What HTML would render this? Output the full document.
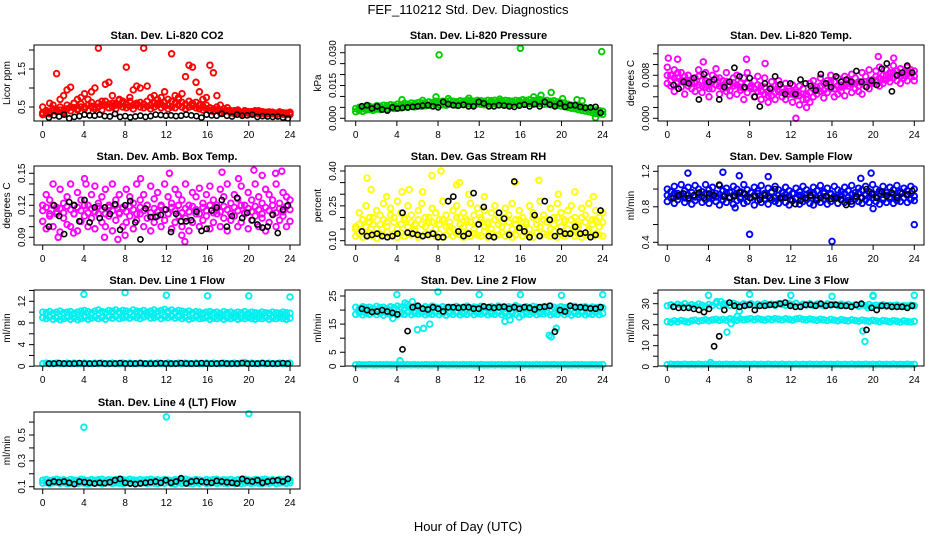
<!DOCTYPE html>
<html><head><meta charset="utf-8"><style>
html,body{margin:0;padding:0;background:#fff;}
svg{display:block;font-family:"Liberation Sans",sans-serif;}
</style></head><body>
<svg id="chart" width="936" height="540" viewBox="0 0 936 540">
<rect x="0" y="0" width="936" height="540" fill="#fff"/>
<text x="468" y="14" text-anchor="middle" font-size="13">FEF_110212  Std. Dev. Diagnostics</text>
<text x="468" y="531" text-anchor="middle" font-size="13">Hour of Day (UTC)</text>
</svg>
<script>
const hourTicks=[0,4,8,12,16,20,24];
// CO2
const co2Base=[0.3,0.35,0.32,0.4,0.38,0.42,0.35,0.45,0.4,0.48,0.42,0.5,0.45,0.4,0.52,0.45,0.5,0.42,0.55,0.48,0.5,0.45,0.55,0.5,0.48,0.52,0.45,0.55,0.5,0.48,0.52,0.45,0.5,0.55,0.48,0.52,0.45,0.5,0.48,0.55,0.5,0.45,0.5,0.52,0.48,0.45,0.42,0.45,0.4,0.38,0.42,0.35,0.38,0.4,0.35,0.33,0.36,0.32,0.35,0.34,0.33,0.35,0.32,0.34,0.31,0.33,0.32,0.3,0.33,0.31,0.3,0.32];
const co2Mid=[0.35,0.4,0.38,0.45,0.42,0.5,0.4,0.55,0.5,0.6,0.45,0.58,0.5,0.55,0.62,0.5,0.6,0.55,0.65,0.58,0.6,0.55,0.68,0.6,0.58,0.65,0.55,0.6,0.62,0.58,0.65,0.55,0.6,0.7,0.58,0.62,0.55,0.65,0.6,0.7,0.62,0.58,0.65,0.6,0.62,0.55,0.52,0.55,0.48,0.45,0.5,0.42,0.45,0.48,0.4,0.38,0.42,0.36,0.4,0.38,0.37,0.4,0.36,0.38,0.35,0.37,0.36,0.34,0.37,0.35,0.34,0.36];
const co2Scatter=[0.5,0.4,0.6,0.55,1.38,0.7,0.8,0.95,1.02,0.6,0.7,0.75,0.85,0.7,0.9,1.0,2.05,0.65,1.1,1.15,0.8,0.6,0.7,0.65,1.55,0.75,0.95,1.05,1.0,2.05,1.05,0.75,0.8,0.6,0.75,0.9,0.7,1.9,0.8,0.75,0.85,1.3,1.6,1.55,1.15,0.9,0.7,0.75,1.6,1.4,0.8,0.55,0.45,0.4,0.35,0.4,0.38,0.35,0.4,0.35,0.38,0.35,0.4,0.33,0.36,0.34,0.35,0.33,0.36,0.32,0.34,0.3];
const co2Black=[0.22,0.28,0.25,0.3,0.2,0.24,0.26,0.3,0.28,0.27,0.3,0.26,0.25,0.32,0.24,0.26,0.23,0.25,0.27,0.24,0.26,0.3,0.29,0.27,0.28,0.26,0.27,0.3,0.28,0.26,0.22,0.3,0.28,0.27,0.32,0.27,0.25,0.3,0.27,0.28,0.3,0.24,0.26,0.25,0.24,0.25,0.22,0.2];
// Pressure
const presBase=[0.0045,0.005,0.0048,0.0052,0.0055,0.005,0.0058,0.0055,0.006,0.0058,0.0062,0.006,0.0065,0.0062,0.0068,0.0065,0.007,0.0068,0.0072,0.007,0.0072,0.0075,0.0072,0.0078,0.0075,0.0078,0.0075,0.008,0.0078,0.0076,0.008,0.0078,0.0082,0.008,0.0078,0.0082,0.008,0.0078,0.0082,0.008,0.0083,0.0078,0.008,0.0082,0.008,0.0078,0.0082,0.008,0.0085,0.0082,0.0085,0.008,0.0083,0.0085,0.008,0.0082,0.0078,0.008,0.0075,0.0072,0.007,0.0065,0.006,0.0058,0.0055,0.005,0.0048,0.0045,0.004,0.0038,0.0035,0.0032];
const presLow=[0.003,0.0035,0.0032,0.0038,0.004,0.0036,0.0042,0.004,0.0045,0.0043,0.0047,0.0045,0.005,0.0048,0.0052,0.005,0.0055,0.0052,0.0057,0.0055,0.0057,0.006,0.0057,0.0062,0.006,0.0062,0.006,0.0065,0.0062,0.006,0.0065,0.0062,0.0066,0.0065,0.0062,0.0066,0.0064,0.0062,0.0066,0.0064,0.0067,0.0062,0.0064,0.0066,0.0064,0.0062,0.0066,0.0064,0.0068,0.0066,0.0068,0.0064,0.0066,0.0068,0.0064,0.0066,0.0062,0.0064,0.006,0.0056,0.0054,0.005,0.0046,0.0044,0.004,0.0036,0.0033,0.003,0.0026,0.0022,0.002,0.0018];
const presOutHours=[8.1,16,23.9,19,18,17.3,7.8,4.5,6.5,9,11,14,20.1,21.5,22,23.3];
const presOutVals=[0.029,0.032,0.0305,0.0118,0.0105,0.0098,0.0098,0.0085,0.0082,0.009,0.0092,0.0088,0.009,0.0085,0.008,0.0003];
const presBlack=[0.0055,0.006,0.0045,0.0055,0.004,0.0035,0.005,0.0045,0.0048,0.005,0.0052,0.0055,0.0058,0.006,0.0055,0.005,0.0075,0.0065,0.006,0.0058,0.0062,0.0055,0.0055,0.0075,0.0068,0.0055,0.0055,0.006,0.0058,0.0055,0.0052,0.0058,0.0062,0.0055,0.0065,0.0055,0.0075,0.0063,0.0055,0.0068,0.0052,0.006,0.006,0.0052,0.0048,0.005,0.0052,0.0025];
// Li-820 Temp
const tempHigh=[0.0095,0.008,0.009,0.0075,0.0085,0.007,0.008,0.0065,0.0075,0.009,0.007,0.0085,0.0065,0.008,0.0092,0.0075,0.007,0.0085,0.006,0.0075,0.008,0.0065,0.0075,0.0085,0.006,0.007,0.0078,0.006,0.0075,0.005,0.0068,0.006,0.007,0.0055,0.0065,0.005,0.0062,0.0048,0.006,0.0055,0.0045,0.0065,0.007,0.0058,0.0075,0.0065,0.007,0.008,0.0068,0.0075,0.0062,0.0078,0.007,0.0082,0.0075,0.0068,0.0085,0.0078,0.009,0.0072,0.0088,0.0095,0.008,0.009,0.0085,0.0098,0.0088,0.0092,0.0085,0.0095,0.009,0.0088];
const tempMid=[0.008,0.007,0.0075,0.0085,0.007,0.0078,0.0068,0.0072,0.0065,0.0078,0.006,0.007,0.0055,0.0068,0.0075,0.006,0.0062,0.0068,0.0052,0.0066,0.0062,0.0058,0.0055,0.0065,0.0058,0.0055,0.0062,0.005,0.0058,0.0042,0.0055,0.0048,0.006,0.0048,0.005,0.0055,0.0045,0.0052,0.0042,0.0045,0.0035,0.0048,0.0055,0.0052,0.006,0.0052,0.006,0.0068,0.0055,0.006,0.0058,0.006,0.0065,0.0065,0.0065,0.006,0.0065,0.0068,0.007,0.0068,0.0078,0.0075,0.0072,0.008,0.0076,0.0085,0.008,0.0078,0.008,0.0082,0.0085,0.0078];
const tempLow=[0.0065,0.006,0.005,0.0068,0.0058,0.0045,0.006,0.0055,0.005,0.0062,0.0048,0.0058,0.004,0.0055,0.0062,0.0045,0.0055,0.005,0.0042,0.006,0.0045,0.0052,0.0035,0.0048,0.0055,0.004,0.005,0.0035,0.0045,0.003,0.0042,0.0035,0.005,0.004,0.0035,0.0045,0.003,0.0042,0.0025,0.0035,0.002,0.003,0.004,0.0045,0.005,0.0038,0.0048,0.0055,0.004,0.0045,0.005,0.0042,0.006,0.0048,0.0055,0.005,0.0045,0.006,0.0055,0.0065,0.007,0.006,0.0065,0.0072,0.0068,0.0075,0.007,0.0065,0.0075,0.007,0.0078,0.007];
const tempOutHours=[12.5,20.5,22,0.1,1,7.7,3.5,9.5];
const tempOutVals=[0,0.0115,0.0112,0.0112,0.011,0.011,0.0105,0.0102];
const tempBlack=[0.0062,0.0055,0.0068,0.0065,0.0075,0.0035,0.0082,0.0068,0.0072,0.0035,0.0058,0.0068,0.0094,0.0078,0.0058,0.0075,0.004,0.0022,0.0065,0.0055,0.0078,0.0063,0.0045,0.0065,0.0045,0.0072,0.0065,0.006,0.0052,0.0082,0.0065,0.0058,0.0078,0.0068,0.0072,0.0068,0.0088,0.0068,0.0058,0.007,0.0062,0.0092,0.0102,0.005,0.008,0.0085,0.0098,0.0085];
// Amb box temp
const ambHigh=[0.12,0.13,0.125,0.14,0.118,0.135,0.122,0.128,0.14,0.12,0.132,0.125,0.145,0.12,0.13,0.138,0.122,0.128,0.135,0.12,0.14,0.125,0.13,0.118,0.135,0.128,0.122,0.14,0.125,0.13,0.12,0.138,0.126,0.132,0.12,0.14,0.128,0.122,0.135,0.13,0.125,0.14,0.12,0.132,0.128,0.136,0.122,0.13,0.138,0.125,0.12,0.135,0.128,0.14,0.122,0.13,0.126,0.138,0.12,0.132,0.125,0.14,0.128,0.122,0.135,0.13,0.125,0.14,0.122,0.132,0.128,0.125];
const ambMid=[0.115,0.118,0.112,0.12,0.114,0.117,0.113,0.119,0.116,0.112,0.118,0.115,0.12,0.113,0.117,0.114,0.119,0.116,0.112,0.118,0.115,0.12,0.113,0.117,0.114,0.119,0.116,0.112,0.118,0.115,0.12,0.113,0.117,0.114,0.119,0.116,0.112,0.118,0.115,0.12,0.113,0.117,0.114,0.119,0.116,0.112,0.118,0.115,0.12,0.113,0.117,0.114,0.119,0.116,0.112,0.118,0.115,0.12,0.113,0.117,0.114,0.119,0.116,0.112,0.118,0.115,0.12,0.113,0.117,0.114,0.119,0.116];
const ambLow=[0.105,0.098,0.11,0.1,0.112,0.095,0.108,0.102,0.1,0.112,0.096,0.105,0.11,0.1,0.108,0.098,0.112,0.104,0.1,0.11,0.096,0.106,0.112,0.1,0.104,0.11,0.098,0.106,0.112,0.1,0.108,0.096,0.104,0.11,0.1,0.106,0.112,0.098,0.104,0.11,0.1,0.108,0.096,0.104,0.112,0.1,0.106,0.11,0.098,0.104,0.112,0.1,0.108,0.096,0.106,0.11,0.1,0.104,0.112,0.098,0.106,0.11,0.1,0.108,0.096,0.104,0.112,0.1,0.106,0.11,0.1,0.105];
const ambOutHours=[1.5,4.2,7.3,9.5,12.3,13.8,17.4,19,20.5,21.3,22.6,23.2,8,13.5,3,6];
const ambOutVals=[0.09,0.14,0.088,0.145,0.15,0.086,0.151,0.145,0.153,0.148,0.15,0.152,0.092,0.092,0.094,0.09];
const ambBlack=[0.1,0.12,0.11,0.093,0.123,0.12,0.105,0.125,0.104,0.118,0.108,0.118,0.112,0.121,0.097,0.12,0.124,0.104,0.088,0.117,0.109,0.109,0.111,0.116,0.095,0.112,0.105,0.105,0.106,0.114,0.096,0.098,0.115,0.118,0.125,0.1,0.11,0.127,0.108,0.113,0.106,0.102,0.099,0.1,0.111,0.094,0.116,0.12];
// Gas stream RH
const rhBase=[0.12,0.13,0.115,0.125,0.135,0.12,0.11,0.13,0.125,0.14,0.12,0.13,0.115,0.135,0.12,0.13,0.125,0.14,0.115,0.12,0.13,0.125,0.135,0.12,0.13,0.115,0.125,0.14,0.12,0.13,0.125,0.115,0.135,0.12,0.13,0.125,0.12,0.14,0.115,0.13,0.12,0.125,0.135,0.12,0.13,0.115,0.125,0.14,0.12,0.13,0.125,0.115,0.135,0.12,0.13,0.125,0.12,0.14,0.115,0.13,0.12,0.125,0.135,0.12,0.13,0.115,0.125,0.14,0.12,0.13,0.125,0.12];
const rhMid=[0.15,0.17,0.19,0.16,0.18,0.2,0.15,0.17,0.19,0.16,0.21,0.18,0.15,0.17,0.2,0.16,0.18,0.15,0.19,0.17,0.16,0.2,0.18,0.15,0.17,0.19,0.16,0.18,0.15,0.2,0.17,0.16,0.19,0.18,0.15,0.17,0.2,0.16,0.18,0.15,0.19,0.17,0.16,0.2,0.18,0.15,0.17,0.19,0.16,0.18,0.15,0.2,0.17,0.16,0.19,0.18,0.15,0.17,0.2,0.16,0.18,0.15,0.19,0.17,0.16,0.2,0.18,0.15,0.17,0.19,0.16,0.18];
const rhScatter=[0.16,0.22,0.19,0.25,0.2,0.17,0.23,0.21,0.26,0.18,0.24,0.2,0.27,0.22,0.19,0.25,0.21,0.17,0.23,0.26,0.2,0.18,0.24,0.22,0.19,0.27,0.21,0.16,0.23,0.25,0.2,0.22,0.18,0.26,0.21,0.24,0.19,0.23,0.17,0.22,0.25,0.2,0.18,0.24,0.21,0.26,0.19,0.23,0.2,0.17,0.25,0.22,0.19,0.27,0.21,0.18,0.24,0.2,0.26,0.22,0.19,0.23,0.25,0.2,0.17,0.24,0.21,0.26,0.19,0.23,0.2,0.22];
const rhOutHours=[1.1,1.5,7.4,8.3,15.5,17.8,9.8,10.1,3,4.5,5.2,6.5,11,12.5,19.7,21.3,23.1];
const rhOutVals=[0.37,0.32,0.38,0.4,0.35,0.36,0.34,0.35,0.29,0.31,0.32,0.31,0.3,0.29,0.3,0.31,0.29];
const rhBlack=[0.14,0.12,0.125,0.13,0.12,0.115,0.12,0.13,0.22,0.135,0.13,0.125,0.12,0.125,0.13,0.115,0.115,0.27,0.29,0.14,0.12,0.13,0.305,0.17,0.245,0.12,0.115,0.22,0.195,0.125,0.355,0.155,0.14,0.115,0.21,0.12,0.27,0.19,0.12,0.14,0.13,0.13,0.16,0.13,0.135,0.115,0.125,0.23];
// Sample flow
const flowHigh=[1.0,0.97,1.03,0.95,1.05,0.98,1.02,0.96,1.04,1.0,0.97,1.05,0.99,1.02,0.95,1.04,0.98,1.01,0.96,1.03,1.0,0.97,1.05,0.99,0.96,1.02,0.98,1.04,0.95,1.01,0.97,1.03,0.99,0.96,1.02,0.98,0.95,1.01,0.97,1.03,0.99,0.96,1.02,0.98,1.04,0.97,1.01,0.95,1.03,0.99,0.97,1.02,0.98,1.04,0.96,1.01,0.99,1.03,0.97,1.05,1.0,0.98,1.03,0.96,1.02,0.99,1.04,0.97,1.01,0.98,1.03,1.0];
const flowMid=[0.93,0.91,0.95,0.92,0.94,0.9,0.93,0.96,0.91,0.94,0.92,0.95,0.9,0.93,0.91,0.94,0.92,0.96,0.9,0.93,0.95,0.91,0.94,0.92,0.9,0.93,0.95,0.91,0.94,0.92,0.96,0.9,0.93,0.91,0.94,0.92,0.95,0.9,0.93,0.91,0.94,0.92,0.96,0.9,0.93,0.95,0.91,0.94,0.92,0.9,0.93,0.95,0.91,0.94,0.92,0.96,0.9,0.93,0.91,0.94,0.92,0.95,0.9,0.93,0.91,0.94,0.92,0.96,0.9,0.93,0.95,0.92];
const flowLow=[0.86,0.9,0.84,0.88,0.92,0.85,0.89,0.83,0.87,0.91,0.85,0.88,0.84,0.9,0.86,0.82,0.88,0.85,0.91,0.83,0.87,0.89,0.84,0.86,0.9,0.82,0.87,0.85,0.89,0.83,0.88,0.86,0.84,0.9,0.85,0.82,0.87,0.89,0.83,0.86,0.88,0.84,0.82,0.87,0.85,0.89,0.83,0.86,0.9,0.84,0.88,0.85,0.87,0.83,0.89,0.86,0.84,0.88,0.85,0.9,0.86,0.83,0.88,0.85,0.89,0.84,0.87,0.86,0.9,0.85,0.88,0.87];
const flowOutHours=[8,16,24,2,5.4,6.6,19.8,20,18.8,7,9.8];
const flowOutVals=[0.49,0.41,0.6,1.18,1.19,0.79,1.18,0.78,1.12,1.15,1.14];
const flowBlack=[0.9,0.93,0.95,0.9,0.93,0.96,0.9,0.95,0.93,1.05,0.92,0.9,0.92,0.96,0.95,0.9,0.92,0.88,0.93,0.9,1.0,0.9,0.9,0.88,0.83,0.87,0.9,0.93,0.88,0.9,0.92,0.89,0.9,0.88,0.82,0.86,0.92,0.9,1.0,0.95,0.9,0.97,0.92,0.96,0.9,0.95,0.94,0.98];
// Line 1
const line1High=[10,9.9,10.1,9.8,10,10.2,9.9,10,10.1,9.8,10,10.2,10.3,10.1,9.9,10.2,10.4,10.1,10,10.3,10.2,10.4,10.1,10.3,10.2,10,10.4,10.2,10.1,10.3,10,10.2,10.4,10.1,10.3,10.5,10.2,10.4,10.1,10.3,10.2,10,10.2,9.9,10.1,10,9.8,10,10.1,9.9,10,9.8,10.1,9.9,10,9.8,10,9.9,10.1,9.8,10,9.9,9.8,10,9.9,9.8,10,9.9,9.8,10,9.9,9.8];
const line1Low=[9,8.8,9.1,8.7,8.9,8.6,8.8,9,8.7,8.9,8.6,8.8,9,8.7,8.9,9.1,8.8,9,8.7,9.1,8.9,9.2,8.8,9,9.1,8.9,9.2,9,8.8,9.1,9.3,8.9,9,9.2,8.8,9.1,9,9.2,8.9,9.1,8.8,9,8.7,8.9,9.1,8.8,8.9,9,8.7,8.9,8.8,9,8.7,8.9,8.8,9,8.7,8.9,8.8,9,8.8,8.7,8.9,8.8,9,8.7,8.9,8.8,9,8.8,8.7,8.9];
const line1Base=[0.5,0.6,0.5,0.5,0.6,0.5,0.5,0.6,0.5,0.6,0.5,0.5,0.6,0.5,0.5,0.6,0.5,0.6,0.5,0.5,0.6,0.5,0.5,0.6,0.5,0.6,0.5,0.5,0.6,0.5,0.5,0.6,0.5,0.6,0.5,0.5,0.6,0.5,0.5,0.6,0.5,0.6,0.5,0.5,0.6,0.5,0.5,0.6,0.5,0.6,0.5,0.5,0.6,0.5,0.5,0.6,0.5,0.6,0.7,0.5,0.6,0.5,0.5,0.6,0.5,0.6,0.5,0.5,0.6,0.5,0.5,0.6];
const line1OutHours=[4,8,12,16,20,24];
const line1OutVals=[13.3,13.6,13.1,13,13,12.8];
const line1Black=[0.5,0.5,0.6,0.5,0.5,0.5,0.6,0.5,0.5,0.5,0.6,0.5,0.5,0.5,0.6,0.5,0.5,0.5,0.6,0.5,0.5,0.5,0.6,0.5,0.5,0.5,0.6,0.5,0.5,0.5,0.6,0.5,0.5,0.5,0.6,0.5,0.5,0.5,0.6,0.5,0.5,0.5,0.6,0.5,0.5,0.5,0.6,0.5];
// Line 2
const line2High=[21,20.5,21.2,20.8,21,20.6,21.3,20.9,21,20.5,21.2,20.8,21.4,21,20.7,21.2,20.9,21.3,21,20.6,21.2,20.8,21.4,21,20.7,21.2,20.9,21,20.6,21.3,20.8,21,21.4,20.7,21.1,20.9,21.3,21,20.6,21.2,20.8,21.4,21,20.7,21.2,20.9,21.5,21,20.7,21.2,20.8,21.3,21,20.6,21.2,20.9,21.4,21,20.7,21.2,20.9,21,20.6,21.3,20.8,21,21.2,20.7,21.1,20.9,21,20.8];
const line2Low=[18.5,19,18.3,18.8,18.5,19.2,18.4,18.8,18.2,18.9,18.5,19,18.3,18.7,18.5,19.1,18.4,18.8,18.6,19,18.3,18.7,18.5,19.1,18.4,18.8,18.2,18.9,18.5,19,18.3,18.7,18.5,19.1,18.4,18.8,18.6,19,18.3,18.7,18.5,19.1,18.4,18.8,18.2,18.9,18.5,17.5,18.3,18.7,18.5,19.1,18.4,18.8,18.6,19,18.3,18.7,18.5,19.1,18.4,18.8,18.2,18.9,18.5,19,18.3,18.7,18.5,19.1,18.4,18.8];
const line2Base=[0.5,0.6,0.5,0.5,0.6,0.5,0.5,0.6,0.5,0.6,0.5,0.5,0.6,0.5,0.5,0.6,0.5,0.6,0.5,0.5,0.6,0.5,0.5,0.6,0.5,0.6,0.5,0.5,0.6,0.5,0.5,0.6,0.5,0.6,0.5,0.5,0.6,0.5,0.5,0.6,0.5,0.6,0.5,0.5,0.6,0.5,0.5,0.6,0.5,0.6,0.5,0.5,0.6,0.5,0.5,0.6,0.5,0.6,0.5,0.5,0.6,0.5,0.5,0.6,0.5,0.6,0.5,0.5,0.6,0.5,0.5,0.6];
const line2OutHours=[4,8,12,16,20,24,5,5.5,6,6.6,7.2,4.3,18.8,19,19.5,4.8,3.6,14.5,15];
const line2OutVals=[25.5,26.5,25.5,25.5,25.2,25.5,22,23,13,13.5,15,2,11,10.5,13.5,22.5,17,16,16.5];
const line2Black=[20.5,20,19.3,19.5,20,19.5,19,18.5,6,12.5,21,21.5,20.5,20.2,21,20.5,19.5,21,21,20.8,21,21,20.5,20.5,21.3,21,20.8,21,21.2,20.5,21,20.5,21,20.8,20.2,21,21.2,21.5,12.3,20,19.5,21.5,21,21,20.8,20.6,20.5,21];
// Line 3
const line3High=[29,29.5,28.8,29.7,29.2,30,28.9,29.5,29.1,29.8,29.3,28.7,29.6,29.2,30.1,29,29.5,29.8,29.3,30.2,29.6,29.1,29.9,29.4,30,29.2,29.7,29.4,30.1,29.5,29.8,29.2,30,29.6,29.3,29.9,29.5,30.2,29.1,29.7,29.4,30,29.2,29.8,29.5,29.1,29.9,29.4,29.7,29.2,29.8,29.3,29.6,29,29.5,28.8,29.4,29.1,29.6,28.9,29.3,29,29.5,28.8,29.2,29,29.4,28.7,29.1,28.9,29.3,29];
const line3Mid=[21.5,21.2,21.8,21.4,22,21.6,21.3,21.9,22.2,21.7,22,22.4,21.9,22.3,22.6,22.1,22.5,22.2,22.8,22.4,22.1,22.7,22.3,22.6,22.9,22.4,22.8,22.5,22.2,22.7,22.4,22.9,22.6,22.3,22.8,22.5,22.2,22.7,23,22.5,22.3,22.7,22.4,22.1,22.6,22.3,22,22.5,22.2,21.9,22.4,22.1,21.8,22.3,22,21.7,22.2,21.9,21.6,22.1,21.8,21.5,22,21.7,21.4,21.9,21.6,21.3,21.8,21.5,21.3,21.6];
const line3Base=[1,1.2,1,1.1,1,1.2,1,1.1,1,1.2,1,1.1,1,1.2,1,1.1,1,1.2,1,1.1,1,1.2,1,1.1,1,1.2,1,1.1,1,1.2,1,1.1,1,1.2,1,1.1,1,1.2,1,1.1,1,1.2,1,1.1,1,1.2,1,1.1,1,1.2,1,1.1,1,1.2,1,1.1,1,1.2,1,1.1,1,1.2,1,1.1,1,1.2,1,1.1,1,1.2,1,1.1];
const line3OutHours=[4,8,12,16,20,24,4.8,5.2,5.5,6.2,6.8,7,19,19.2,19.5,20,5.8,4.2];
const line3OutVals=[34,34.5,34,33.5,34,34,31,31,30,20.5,24,26.5,17,12,28,33.5,16.5,2];
const line3Black=[28.5,28,28,28,27.5,27,26,27.5,9.7,14.5,27,30.5,29,28.5,29,29.5,27,29,29,29.5,29.5,30,30.5,29,28.5,28.5,29.5,29.5,29,30,29,29.5,29.5,29,29,28.5,29.5,30,17.5,28,27,29,29,28.5,28.5,28.5,28,29];
// Line 4
const line4High=[0.15,0.155,0.148,0.152,0.158,0.15,0.154,0.147,0.156,0.151,0.149,0.157,0.152,0.148,0.155,0.15,0.153,0.158,0.149,0.154,0.151,0.156,0.148,0.153,0.15,0.157,0.152,0.149,0.155,0.151,0.154,0.158,0.15,0.153,0.149,0.156,0.152,0.148,0.155,0.15,0.154,0.158,0.151,0.149,0.156,0.152,0.148,0.155,0.15,0.153,0.157,0.149,0.154,0.151,0.156,0.148,0.153,0.15,0.157,0.152,0.149,0.155,0.151,0.154,0.158,0.15,0.153,0.149,0.156,0.152,0.155,0.15];
const line4Low=[0.128,0.132,0.125,0.13,0.134,0.127,0.131,0.124,0.129,0.133,0.126,0.13,0.128,0.122,0.131,0.127,0.133,0.125,0.129,0.132,0.126,0.13,0.128,0.124,0.131,0.127,0.133,0.125,0.129,0.132,0.126,0.13,0.128,0.124,0.131,0.127,0.133,0.125,0.12,0.132,0.126,0.13,0.128,0.124,0.131,0.127,0.133,0.125,0.129,0.132,0.126,0.13,0.128,0.124,0.131,0.127,0.133,0.125,0.129,0.132,0.126,0.13,0.128,0.124,0.131,0.127,0.133,0.125,0.129,0.132,0.126,0.13];
const line4OutHours=[4,12,20];
const line4OutVals=[0.56,0.64,0.665];
const line4Black=[0.13,0.14,0.135,0.14,0.13,0.12,0.14,0.135,0.13,0.125,0.13,0.128,0.135,0.15,0.16,0.13,0.125,0.12,0.125,0.13,0.135,0.14,0.13,0.15,0.13,0.14,0.165,0.125,0.14,0.145,0.14,0.135,0.13,0.145,0.14,0.135,0.13,0.125,0.16,0.145,0.14,0.15,0.13,0.14,0.145,0.15,0.14,0.16];

const colL={l:34,r:300,x0:42.7,x24:290};
const colM={l:345,r:612,x0:355.7,x24:602.7};
const colR={l:658,r:924,x0:667.3,x24:914.3};
const rows=[{t:45,b:121},{t:166,b:245},{t:290,b:366},{t:412,b:489}];
const CY='#00f0f0';
const panels=[
 {name:'co2',title:'Stan. Dev. Li-820 CO2',ylab:'Licor ppm',col:colL,row:rows[0],cal:[0.5,107,1.5,69],ticks:[0.5,1,1.5,2],labs:[0.5,1.5],fmt:1,
  series:[[co2Base,null,'#f00'],[co2Mid,null,'#f00'],[co2Scatter,null,'#f00'],[co2Black,'b','#000']]},
 {name:'pressure',title:'Stan. Dev. Li-820 Pressure',ylab:'kPa',col:colM,row:rows[0],cal:[0,118.3,0.03,52.7],ticks:[0,0.005,0.01,0.015,0.02,0.025,0.03],labs:[0,0.015,0.03],fmt:3,
  series:[[presLow,null,'#0c0'],[presBase,null,'#0c0'],[presOutVals,presOutHours,'#0c0'],[presBlack,'b','#000']]},
 {name:'li820-temp',title:'Stan. Dev. Li-820 Temp.',ylab:'degrees C',col:colR,row:rows[0],cal:[0,118.3,0.008,75.3],ticks:[0,0.002,0.004,0.006,0.008,0.01,0.012],labs:[0,0.008],fmt:3,
  series:[[tempLow,null,'#f0f'],[tempMid,null,'#f0f'],[tempHigh,null,'#f0f'],[tempOutVals,tempOutHours,'#f0f'],[tempBlack,'b','#000']]},
 {name:'amb-box-temp',title:'Stan. Dev. Amb. Box Temp.',ylab:'degrees C',col:colL,row:rows[1],cal:[0.09,237.3,0.15,173.3],ticks:[0.09,0.1,0.11,0.12,0.13,0.14,0.15],labs:[0.09,0.12,0.15],fmt:2,
  series:[[ambLow,null,'#f0f'],[ambMid,null,'#f0f'],[ambHigh,null,'#f0f'],[ambOutVals,ambOutHours,'#f0f'],[ambBlack,'b','#000']]},
 {name:'gas-stream-rh',title:'Stan. Dev. Gas Stream RH',ylab:'percent',col:colM,row:rows[1],cal:[0.1,240.7,0.4,171],ticks:[0.1,0.15,0.2,0.25,0.3,0.35,0.4],labs:[0.1,0.25,0.4],fmt:2,
  series:[[rhScatter,null,'#ff0'],[rhMid,null,'#ff0'],[rhBase,null,'#ff0'],[rhOutVals,rhOutHours,'#ff0'],[rhBlack,'b','#000']]},
 {name:'sample-flow',title:'Stan. Dev. Sample Flow',ylab:'ml/min',col:colR,row:rows[1],cal:[0.4,242.3,1.2,171.3],ticks:[0.4,0.6,0.8,1,1.2],labs:[0.4,0.8,1.2],fmt:1,
  series:[[flowLow,null,'#00f'],[flowMid,null,'#00f'],[flowHigh,null,'#00f'],[flowOutVals,flowOutHours,'#00f'],[flowBlack,'b','#000']]},
 {name:'line1-flow',title:'Stan. Dev. Line 1 Flow',ylab:'ml/min',col:colL,row:rows[2],cal:[0,366.3,12,301.3],ticks:[0,2,4,6,8,10,12,14],labs:[0,4,8,12],fmt:0,
  series:[[line1Base,null,CY],[line1Low,null,CY],[line1High,null,CY],[line1OutVals,line1OutHours,CY],[line1Black,'b','#000']]},
 {name:'line2-flow',title:'Stan. Dev. Line 2 Flow',ylab:'ml/min',col:colM,row:rows[2],cal:[0,366.3,25,296],ticks:[0,5,10,15,20,25],labs:[0,5,15,25],fmt:0,
  series:[[line2Base,null,CY],[line2Low,null,CY],[line2High,null,CY],[line2OutVals,line2OutHours,CY],[line2Black,'b','#000']]},
 {name:'line3-flow',title:'Stan. Dev. Line 3 Flow',ylab:'ml/min',col:colR,row:rows[2],cal:[0,366.7,30,303.7],ticks:[0,5,10,15,20,25,30,35],labs:[0,10,20,30],fmt:0,
  series:[[line3Base,null,CY],[line3Mid,null,CY],[line3High,null,CY],[line3OutVals,line3OutHours,CY],[line3Black,'b','#000']]},
 {name:'line4-flow',title:'Stan. Dev. Line 4 (LT) Flow',ylab:'ml/min',col:colL,row:rows[3],cal:[0.1,486.7,0.5,435],ticks:[0.1,0.2,0.3,0.4,0.5,0.6],labs:[0.1,0.3,0.5],fmt:1,
  series:[[line4Low,null,CY],[line4High,null,CY],[line4OutVals,line4OutHours,CY],[line4Black,'b','#000']]}
];
const NS='http://www.w3.org/2000/svg';
const svg=document.getElementById('chart');
function mk(tag,attrs,parent){const e=document.createElementNS(NS,tag);for(const k in attrs)e.setAttribute(k,attrs[k]);parent.appendChild(e);return e;}
panels.forEach(p=>{
 const g=mk('g',{},svg);
 
 
 const c=p.col,r=p.row;
 const xs=h=>c.x0+h*(c.x24-c.x0)/24;
 const [v1,p1,v2,p2]=p.cal;
 const ys=v=>p1+(v-v1)*(p2-p1)/(v2-v1);
 const t=mk('text',{x:(c.l+c.r)/2,y:r.t-6,'text-anchor':'middle','font-size':11,'font-weight':'bold'},g);
 t.textContent=p.title;
 
 
 const yl=mk('text',{x:0,y:0,'text-anchor':'middle','font-size':10,transform:`translate(${c.l-24},${(r.t+r.b)/2}) rotate(-90)`},g);
 yl.textContent=p.ylab;
 
 
 const pg=mk('g',{fill:'none'},g);
 
 
 p.series.forEach(s=>{
  const vals=s[0],hrs=s[1],col=s[2];
  const black=col==='#000';
  vals.forEach((v,i)=>{
   let h;
   if(hrs==='b') h=0.6+i*23.2/(vals.length-1);
   else if(hrs) h=hrs[i];
   else h=i*24/(vals.length-1);
   const cc=mk('circle',{cx:xs(h).toFixed(1),cy:ys(v).toFixed(1),r:black?2.6:2.8,stroke:col,'stroke-width':black?1.6:1.9},pg);
   
   
  });
 });
 const box=mk('rect',{x:c.l,y:r.t,width:c.r-c.l,height:r.b-r.t,fill:'none',stroke:'#000','stroke-width':1},g);
 
 
 hourTicks.forEach(h=>{
  const x=xs(h);
  mk('line',{x1:x,x2:x,y1:r.b,y2:r.b+5,stroke:'#000'},g);
  const tx=mk('text',{x:x,y:r.b+17,'text-anchor':'middle','font-size':10},g);
  tx.textContent=h;
  
  
 });
 p.ticks.forEach(v=>{
  const y=ys(v);
  mk('line',{x1:c.l-5,x2:c.l,y1:y,y2:y,stroke:'#000'},g);
 });
 p.labs.forEach(v=>{
  const y=ys(v);
  const tx=mk('text',{x:0,y:0,'text-anchor':'middle','font-size':10,transform:`translate(${c.l-9},${y}) rotate(-90)`},g);
  tx.textContent=v.toFixed(p.fmt);
  
  
 });
});
</script>
</body></html>
